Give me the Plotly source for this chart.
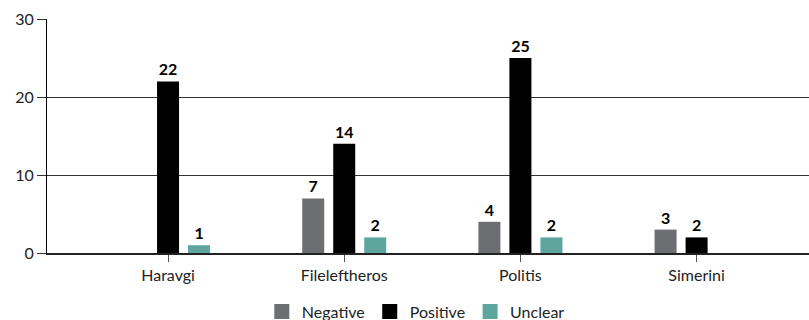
import plotly.graph_objects as go

categories = ["Haravgi", "Fileleftheros", "Politis", "Simerini"]
negative = [None, 7, 4, 3]
positive = [22, 14, 25, 2]
unclear = [1, 2, 2, None]
y_ticks = [0, 10, 20, 30]

series = [
    ("Negative", negative, "#6d6e71"),
    ("Positive", positive, "#000000"),
    ("Unclear", unclear, "#5ea59d"),
]

fig = go.Figure()
for name, vals, color in series:
    fig.add_trace(go.Bar(
        name=name, x=categories, y=vals, marker_color=color,
        marker_line_width=0, showlegend=False,
        text=[("" if v is None else str(v)) for v in vals],
        textposition="outside", cliponaxis=False,
        textfont=dict(family="Lato", size=16, color="#000000", weight="bold"),
    ))
for name, vals, color in series:
    fig.add_trace(go.Scatter(
        name=name, x=[None], y=[None], mode="markers",
        marker=dict(symbol="square", size=15, color=color), showlegend=True,
    ))

fig.update_layout(
    width=809, height=320,
    margin=dict(l=47, r=0, t=19, b=67, autoexpand=False),
    barmode="group", bargap=0.472, bargroupgap=0.29,
    plot_bgcolor="white", paper_bgcolor="white",
    font=dict(family="Lato", size=16, color="#222222"),
    showlegend=True,
    legend=dict(orientation="h", x=0.484, xanchor="center", yref="container",
                y=0.026, yanchor="middle", font=dict(size=16), traceorder="normal"),
)
fig.update_xaxes(
    range=[-0.687, 3.638], showline=True, linecolor="#222222", linewidth=1.5,
    ticks="outside", ticklen=7, tickcolor="#555555", tickwidth=1,
    showgrid=False, tickfont=dict(size=16, color="#222222"),
)
fig.update_yaxes(
    range=[0, 30], tickvals=y_ticks, showline=True, linecolor="#000000", linewidth=1,
    showgrid=True, gridcolor="#333333", gridwidth=1, zeroline=False,
    ticks="outside", ticklen=9, tickcolor="#333333",
    tickfont=dict(size=16, color="#222222"),
)
fig.write_html("out.html")
